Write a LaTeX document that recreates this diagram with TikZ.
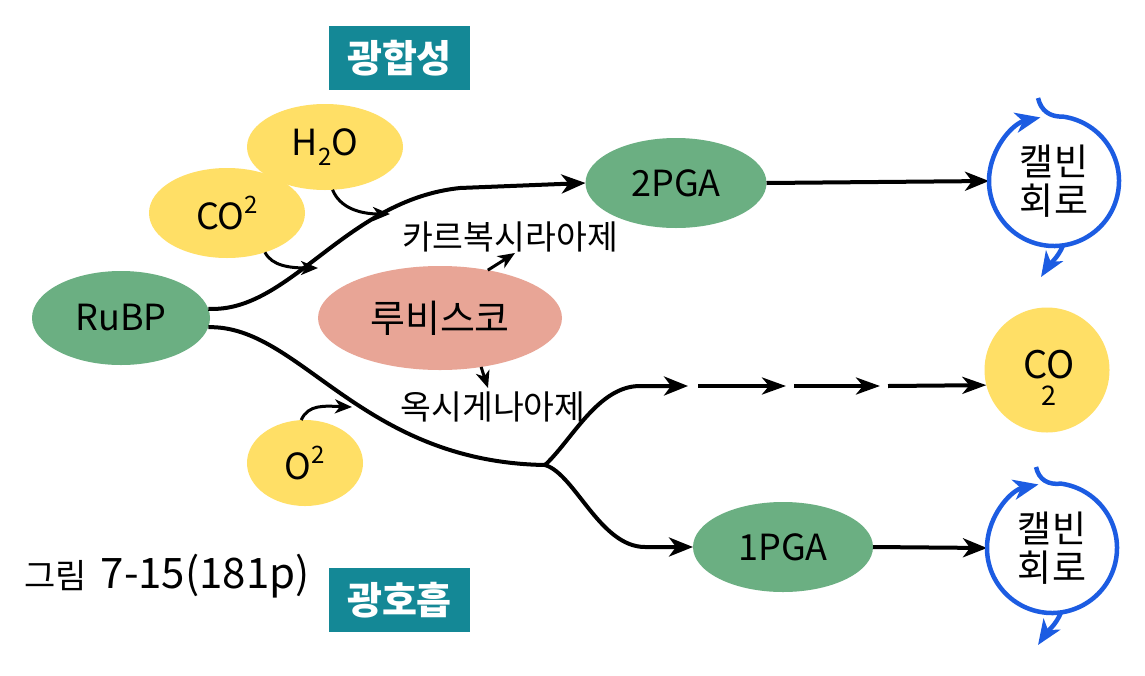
\documentclass[tikz,border=0pt]{standalone}
\usepackage{fontspec}
\setmainfont{Noto Sans CJK KR}
\usetikzlibrary{arrows.meta,shapes.geometric}
\definecolor{tealbox}{HTML}{148896}
\definecolor{yel}{HTML}{FFDF66}
\definecolor{grn}{HTML}{6BAF82}
\definecolor{salm}{HTML}{E8A596}
\definecolor{calblue}{HTML}{1C5CE2}
\tikzset{
  arr/.style={line width=4pt, -{Stealth[length=24pt,width=19pt,inset=7pt]}},
  seg/.style={line width=4pt, -{Stealth[length=24pt,width=17pt,inset=7pt]}},
  sarr/.style={line width=3pt, -{Stealth[length=17pt,width=14pt,inset=5pt]}},
  calv/.style={line width=4.5pt, draw=calblue, -{Stealth[length=25pt,width=20pt,inset=7pt]}},
  blob/.style={ellipse, inner sep=0pt, outer sep=0pt, font=\fontsize{36}{40}\selectfont},
  titlebox/.style={rectangle, fill=tealbox, text=white, minimum width=141pt, minimum height=64pt, inner sep=0pt, font=\fontsize{38}{40}\selectfont\bfseries},
  kor/.style={inner sep=0pt, font=\fontsize{33.5}{38}\selectfont},
  calvtext/.style={circle, minimum size=130pt, inner sep=0pt, outer sep=0pt, align=center, font=\fontsize{37}{39}\selectfont},
}
\begin{document}
\begin{tikzpicture}[x=1pt,y=-1pt]
\useasboundingbox (0,0) rectangle (1145,675);
\fill[white] (0,0) rectangle (1145,675);

% titles
\node[titlebox] (t1) at (399.5,58) {광합성};
\node[titlebox] (t2) at (399.5,600) {광호흡};

% blobs
\node[blob, fill=yel, minimum width=156pt, minimum height=86pt] (h2o) at (325,147) {H\raisebox{-0.28em}{\fontsize{24}{24}\selectfont 2}O};
\node[blob, fill=yel, minimum width=156pt, minimum height=90pt] (co2a) at (227,213) {CO\raisebox{0.42em}{\fontsize{24}{24}\selectfont 2}};
\node[blob, fill=grn, minimum width=178pt, minimum height=94pt] (rubp) at (121,318) {RuBP};
\node[blob, fill=salm, minimum width=244pt, minimum height=104pt, font=\fontsize{38}{40}\selectfont] (rub) at (440,318) {루비스코};
\node[blob, fill=grn, minimum width=181pt, minimum height=90pt] (pga2) at (676,183) {2PGA};
\node[blob, fill=grn, minimum width=180pt, minimum height=90pt] (pga1) at (783,547) {1PGA};
\node[blob, fill=yel, minimum width=116pt, minimum height=86pt] (o2) at (305,463) {O\raisebox{0.42em}{\fontsize{24}{24}\selectfont 2}};
\node[circle, fill=yel, minimum size=125pt, inner sep=0pt, outer sep=0pt] (co2b) at (1047,370) {};
\node[inner sep=0pt, align=center, font=\fontsize{38}{36}\selectfont] (co2lab) at (1049,378) {CO\\[-9pt]{\fontsize{27}{27}\selectfont 2}};

% labels
\node[kor] (carb) at (510,237) {카르복시라아제};
\node[kor] (oxy) at (493,407) {옥시게나아제};
\node[inner sep=0pt, anchor=west, font=\fontsize{34}{37}\selectfont] (fig) at (24,576) {그림\hspace{14pt}{\fontsize{42}{42}\selectfont 7-15(181p)}};

% calvin cycles
\node[calvtext] (cal1) at (1054,181) {캘빈\\회로};
\node[calvtext] (cal2) at (1052,548) {캘빈\\회로};

% coordinates
\coordinate (j) at (545,465);
\coordinate (co2tip) at (318,268);
\coordinate (h2otip) at (390,214);
\coordinate (o2tip) at (352,407);
\coordinate (carbtip) at (515,253);
\coordinate (oxytip) at (488,388);
\coordinate (d1) at (688,386);
\coordinate (d2s) at (698,386);
\coordinate (d2) at (786,386);
\coordinate (d3s) at (794,386);
\coordinate (d3) at (880,386);
\coordinate (d4s) at (888,386);
\coordinate (tail1) at (1038,98);
\coordinate (btip1) at (1041,277);
\coordinate (tail2) at (1036,467);
\coordinate (btip2) at (1038,645);

% main paths
\draw[arr] (rubp.6) .. controls (290,313) and (345,200) .. (460,188) -- (pga2.west);
\draw[line width=4pt] (rubp.-6) .. controls (300,325) and (360,462) .. (j);
\draw[arr] (j) .. controls (572,440) and (598,386) .. (640,386) -- (d1);
\draw[seg] (d2s) -- (d2);
\draw[seg] (d3s) -- (d3);
\draw[seg] (d4s) -- (co2b.194);
\draw[arr] (j) .. controls (575,474) and (600,547) .. (645,547) -- (pga1.west);
\draw[arr] (pga2.east) -- (cal1.west);
\draw[arr] (pga1.east) -- (cal2.west);

% small arrows
\draw[sarr] (co2a.-46) .. controls (272,266) and (290,268) .. (co2tip);
\draw[sarr] (h2o.-80) .. controls (340,208) and (360,214) .. (h2otip);
\draw[sarr] (o2.95) .. controls (308,404) and (325,406) .. (o2tip);
\draw[sarr] (rub.45) -- (carbtip);
\draw[sarr] (rub.-50) -- (oxytip);

% calvin arrows
\draw[calv] (tail1) .. controls (1041,111) and (1050,117) .. (cal1.82) arc[start angle=-82, end angle=258, radius=65];
\draw[calv] (cal1.-82) .. controls (1058,258) and (1048,266) .. (btip1);
\draw[calv] (tail2) .. controls (1039,480) and (1048,485) .. (cal2.82) arc[start angle=-82, end angle=258, radius=65];
\draw[calv] (cal2.-82) .. controls (1056,625) and (1046,633) .. (btip2);
\end{tikzpicture}
\end{document}
